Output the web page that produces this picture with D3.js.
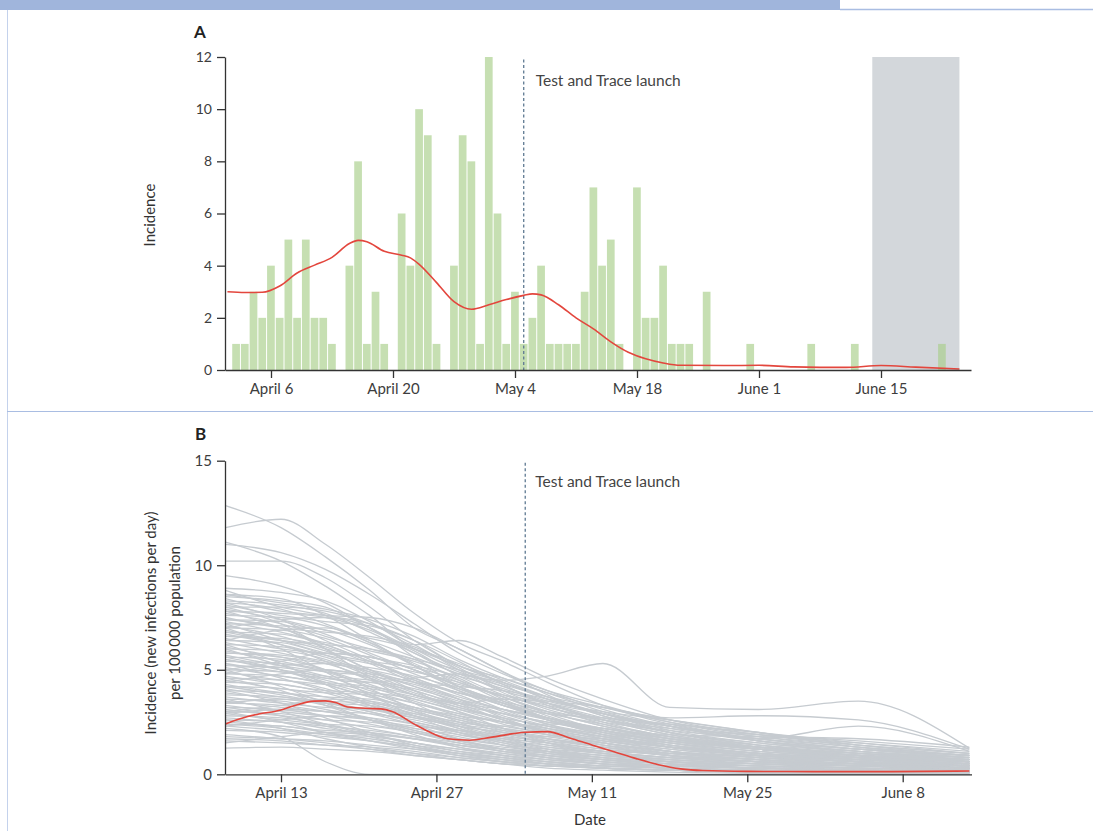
<!DOCTYPE html>
<html>
<head>
<meta charset="utf-8">
<script src="https://cdn.jsdelivr.net/npm/d3@7"></script>
<style>
  body { margin: 0; background: #ffffff; }
  svg { display: block; font-family: Lato, "Open Sans", sans-serif; }
</style>
</head>
<body>
<div id="chart"></div>
<script>
// ---- Panel A: daily cases (bars) + smoothed incidence ----
const aStart = "2020-04-02"; // first bar, one bar per day after that
const aCounts = [1, 1, 3, 2, 4, 2, 5, 2, 5, 2, 2, 1, 0, 4, 8, 1, 3, 1, 0, 6,
                 4, 10, 9, 1, 0, 4, 9, 8, 1, 12, 6, 1, 3, 1, 2, 4, 1, 1, 1, 1,
                 3, 7, 4, 5, 1, 0, 7, 2, 2, 4, 1, 1, 1, 0, 3, 0, 0, 0, 0, 1,
                 0, 0, 0, 0, 0, 0, 1, 0, 0, 0, 0, 1, 0, 0, 0, 0, 0, 0, 0, 0,
                 0, 1];
const aTrendDates = ["2020-04-01", "2020-04-03", "2020-04-05", "2020-04-07", "2020-04-09", "2020-04-11",
                     "2020-04-13", "2020-04-15", "2020-04-16", "2020-04-17", "2020-04-19", "2020-04-21",
                     "2020-04-22", "2020-04-23", "2020-04-25", "2020-04-27", "2020-04-29", "2020-05-01",
                     "2020-05-03", "2020-05-05", "2020-05-06", "2020-05-07", "2020-05-09", "2020-05-11",
                     "2020-05-13", "2020-05-15", "2020-05-17", "2020-05-19", "2020-05-21", "2020-05-23",
                     "2020-05-28", "2020-06-01", "2020-06-05", "2020-06-11", "2020-06-15", "2020-06-19",
                     "2020-06-24"];
const aTrend = [3.0, 2.97, 2.98, 3.22, 3.72, 4.02,
                4.32, 4.85, 4.97, 4.92, 4.55, 4.4,
                4.3, 4.05, 3.35, 2.62, 2.33, 2.5,
                2.7, 2.86, 2.92, 2.88, 2.5, 2.0,
                1.58, 1.08, 0.68, 0.43, 0.27, 0.18,
                0.17, 0.18, 0.12, 0.1, 0.17, 0.11,
                0.04];
const aTicks = ["2020-04-06", "2020-04-20", "2020-05-04", "2020-05-18", "2020-06-01", "2020-06-15"];
const aYTicks = [0, 2, 4, 6, 8, 10, 12];
const aShade = ["2020-06-14", "2020-06-24"];

// ---- Panel B: incidence per area (grey) + Isle of Wight (red) ----
const bDates = ["2020-04-08", "2020-04-13", "2020-04-17", "2020-04-21", "2020-04-25", "2020-04-29",
                "2020-05-03", "2020-05-07", "2020-05-12", "2020-05-18", "2020-05-26", "2020-06-04",
                "2020-06-14"];
const bSeries = [
  [12.85, 11.8, 10.4, 8.8, 7.0, 6.0, 4.9, 4.0, 3.1, 2.3, 1.6, 1.2, 0.9],
  [11.8, 12.2, 11.0, 9.4, 7.7, 6.3, 5.4, 4.4, 3.3, 2.4, 1.7, 1.2, 0.8],
  [11.1, 10.2, 9.0, 7.6, 6.2, 6.4, 5.6, 4.6, 3.6, 2.6, 1.9, 1.4, 1.0],
  [11.0, 10.6, 9.8, 8.6, 7.2, 5.8, 4.8, 4.0, 3.3, 2.5, 1.8, 1.3, 0.9],
  [10.2, 10.2, 9.4, 8.0, 6.4, 5.2, 4.4, 3.7, 2.9, 2.1, 1.5, 1.1, 0.8],
  [9.5, 9.0, 8.2, 7.0, 5.8, 4.8, 4.5, 4.7, 5.3, 3.2, 3.1, 3.5, 1.25],
  [8.9, 8.7, 8.3, 7.3, 6.0, 5.0, 4.3, 3.7, 3.2, 2.7, 2.8, 2.6, 1.2],
  [8.8, 8.0, 7.6, 7.2, 6.4, 5.2, 4.6, 3.9, 3.0, 2.3, 1.7, 2.3, 1.1],
  [8.6, 8.2, 7.9, 7.4, 6.6, 5.5, 4.6, 3.9, 3.2, 2.5, 1.9, 1.5, 1.1],
  [8.5, 8.3, 8.0, 7.0, 6.0, 5.2, 4.4, 3.6, 2.9, 2.2, 1.6, 1.2, 0.9],
  [8.4, 7.8, 7.6, 7.5, 7.0, 6.0, 4.9, 3.8, 2.8, 2.3, 1.8, 1.4, 1.0],
  [8.3, 8.1, 7.7, 6.8, 5.8, 4.9, 4.2, 3.5, 3.0, 2.6, 2.0, 1.3, 0.8],
  [8.2, 7.9, 7.2, 6.4, 5.6, 4.8, 4.0, 3.4, 2.7, 2.0, 1.5, 1.1, 0.7],
  [8.1, 7.6, 7.3, 7.1, 6.4, 5.4, 4.3, 3.3, 2.4, 1.8, 1.3, 1.0, 0.8],
  [8.0, 8.0, 7.8, 7.2, 6.2, 5.0, 3.9, 3.1, 2.5, 2.1, 1.7, 1.3, 0.9],
  [7.9, 7.4, 6.9, 6.5, 6.0, 5.3, 4.5, 3.7, 2.8, 2.0, 1.4, 1.0, 0.6],
  [7.8, 7.7, 7.5, 6.9, 5.9, 4.7, 3.8, 3.2, 2.6, 2.2, 1.9, 1.6, 1.2],
  [7.7, 7.2, 6.6, 6.0, 5.5, 5.0, 4.4, 3.6, 2.9, 2.3, 1.6, 1.1, 0.7],
  [7.6, 7.5, 7.1, 6.3, 5.3, 4.4, 3.7, 3.0, 2.3, 1.7, 1.2, 0.9, 0.6],
  [7.5, 7.0, 6.8, 6.6, 6.1, 5.1, 4.0, 3.2, 2.7, 2.4, 2.0, 1.5, 1.0],
  [7.4, 7.3, 6.7, 5.8, 5.0, 4.3, 3.8, 3.4, 2.9, 2.3, 1.7, 1.2, 0.8],
  [7.3, 6.8, 6.3, 5.9, 5.4, 4.6, 3.6, 2.8, 2.1, 1.6, 1.2, 0.8, 0.5],
  [7.2, 7.1, 6.9, 6.2, 5.2, 4.2, 3.5, 3.0, 2.6, 2.0, 1.4, 0.9, 0.6],
  [7.1, 6.6, 6.0, 5.6, 5.2, 4.7, 4.1, 3.4, 2.6, 1.9, 1.3, 0.9, 0.6],
  [7.0, 6.9, 6.5, 5.7, 4.8, 4.0, 3.3, 2.7, 2.1, 1.6, 1.2, 0.9, 0.7],
  [6.9, 6.4, 6.2, 6.0, 5.5, 4.5, 3.5, 2.7, 2.2, 1.8, 1.4, 1.1, 0.8],
  [6.8, 6.7, 6.2, 5.4, 4.6, 3.9, 3.4, 2.9, 2.4, 1.8, 1.2, 0.8, 0.5],
  [6.7, 6.2, 5.7, 5.3, 4.9, 4.4, 3.7, 3.0, 2.3, 1.7, 1.3, 1.0, 0.7],
  [6.6, 6.5, 6.1, 5.3, 4.4, 3.7, 3.1, 2.6, 2.1, 1.5, 1.0, 0.7, 0.4],
  [6.5, 6.0, 5.8, 5.6, 5.0, 4.1, 3.3, 2.6, 2.0, 1.6, 1.3, 1.0, 0.7],
  [6.4, 6.3, 5.7, 4.9, 4.2, 3.6, 3.1, 2.7, 2.2, 1.7, 1.2, 0.8, 0.5],
  [6.3, 5.8, 5.4, 5.1, 4.7, 4.1, 3.4, 2.7, 2.0, 1.4, 1.0, 0.7, 0.5],
  [6.2, 6.1, 5.6, 4.8, 4.0, 3.4, 2.9, 2.5, 2.1, 1.7, 1.3, 0.9, 0.6],
  [6.1, 5.6, 5.3, 5.0, 4.5, 3.8, 3.0, 2.4, 1.9, 1.5, 1.1, 0.8, 0.5],
  [6.0, 5.9, 5.5, 4.7, 3.9, 3.3, 2.9, 2.5, 2.0, 1.4, 0.9, 0.6, 0.4],
  [5.9, 5.4, 5.0, 4.8, 4.4, 3.9, 3.3, 2.6, 1.9, 1.3, 0.9, 0.7, 0.5],
  [5.8, 5.7, 5.3, 4.6, 3.8, 3.2, 2.7, 2.3, 1.9, 1.5, 1.1, 0.8, 0.6],
  [5.7, 5.2, 4.9, 4.7, 4.3, 3.6, 2.9, 2.3, 1.8, 1.4, 1.0, 0.7, 0.4],
  [5.6, 5.5, 5.0, 4.3, 3.6, 3.1, 2.7, 2.3, 1.8, 1.3, 0.9, 0.6, 0.4],
  [5.5, 5.0, 4.7, 4.5, 4.1, 3.5, 2.8, 2.2, 1.7, 1.3, 1.0, 0.8, 0.6],
  [5.4, 5.3, 4.9, 4.2, 3.5, 2.9, 2.5, 2.1, 1.7, 1.3, 0.9, 0.6, 0.3],
  [5.3, 4.9, 4.6, 4.4, 4.0, 3.3, 2.6, 2.1, 1.6, 1.2, 0.9, 0.7, 0.5],
  [5.2, 5.1, 4.7, 4.0, 3.4, 2.9, 2.5, 2.2, 1.8, 1.4, 1.0, 0.7, 0.5],
  [5.1, 4.7, 4.4, 4.2, 3.8, 3.2, 2.6, 2.0, 1.5, 1.1, 0.8, 0.6, 0.4],
  [5.0, 4.9, 4.5, 3.9, 3.2, 2.7, 2.3, 2.0, 1.6, 1.2, 0.8, 0.5, 0.3],
  [4.9, 4.5, 4.3, 4.1, 3.7, 3.1, 2.5, 2.0, 1.6, 1.3, 1.0, 0.7, 0.5],
  [4.8, 4.7, 4.3, 3.7, 3.1, 2.6, 2.2, 1.9, 1.5, 1.1, 0.7, 0.5, 0.3],
  [4.7, 4.3, 4.0, 3.9, 3.6, 3.0, 2.4, 1.9, 1.5, 1.1, 0.8, 0.6, 0.4],
  [4.6, 4.5, 4.1, 3.5, 2.9, 2.5, 2.2, 1.9, 1.5, 1.1, 0.8, 0.6, 0.4],
  [4.5, 4.1, 3.9, 3.8, 3.4, 2.8, 2.2, 1.7, 1.3, 1.0, 0.7, 0.5, 0.3],
  [4.4, 4.3, 3.9, 3.3, 2.8, 2.4, 2.1, 1.8, 1.4, 1.0, 0.7, 0.4, 0.2],
  [4.3, 3.9, 3.7, 3.6, 3.2, 2.7, 2.1, 1.6, 1.2, 0.9, 0.7, 0.5, 0.4],
  [4.2, 4.1, 3.7, 3.2, 2.7, 2.3, 2.0, 1.7, 1.4, 1.1, 0.8, 0.5, 0.3],
  [4.1, 3.7, 3.5, 3.4, 3.1, 2.6, 2.0, 1.5, 1.1, 0.8, 0.6, 0.4, 0.3],
  [4.0, 3.9, 3.5, 3.0, 2.5, 2.1, 1.8, 1.6, 1.3, 0.9, 0.6, 0.4, 0.2],
  [3.9, 3.6, 3.4, 3.3, 2.9, 2.4, 1.9, 1.5, 1.1, 0.8, 0.6, 0.5, 0.3],
  [3.8, 3.7, 3.3, 2.9, 2.4, 2.0, 1.7, 1.5, 1.2, 0.9, 0.6, 0.4, 0.2],
  [3.7, 3.4, 3.2, 3.1, 2.8, 2.3, 1.8, 1.4, 1.0, 0.7, 0.5, 0.4, 0.3],
  [3.6, 3.5, 3.1, 2.7, 2.2, 1.9, 1.6, 1.4, 1.1, 0.8, 0.5, 0.3, 0.2],
  [3.5, 3.2, 3.0, 2.9, 2.6, 2.1, 1.6, 1.2, 0.9, 0.7, 0.5, 0.4, 0.3],
  [3.4, 3.3, 3.0, 2.6, 2.1, 1.7, 1.4, 1.2, 1.0, 0.7, 0.5, 0.3, 0.2],
  [3.3, 3.0, 2.8, 2.7, 2.4, 1.9, 1.5, 1.1, 0.8, 0.6, 0.4, 0.3, 0.2],
  [3.2, 3.1, 2.8, 2.4, 2.0, 1.6, 1.3, 1.1, 0.9, 0.6, 0.4, 0.3, 0.2],
  [3.1, 2.8, 2.6, 2.5, 2.2, 1.8, 1.4, 1.0, 0.7, 0.5, 0.4, 0.3, 0.2],
  [3.0, 2.9, 2.6, 2.2, 1.8, 1.5, 1.2, 1.0, 0.8, 0.6, 0.4, 0.2, 0.1],
  [2.9, 2.6, 2.4, 2.3, 2.0, 1.6, 1.2, 0.9, 0.7, 0.5, 0.3, 0.2, 0.1],
  [2.8, 2.7, 2.4, 2.0, 1.7, 1.4, 1.1, 0.9, 0.7, 0.5, 0.3, 0.2, 0.1],
  [2.7, 2.5, 2.3, 2.1, 1.8, 1.4, 1.1, 0.8, 0.6, 0.4, 0.3, 0.2, 0.1],
  [2.6, 2.5, 2.2, 1.9, 1.5, 1.2, 1.0, 0.8, 0.6, 0.4, 0.3, 0.2, 0.1],
  [2.5, 2.3, 2.1, 2.0, 1.7, 1.3, 1.0, 0.7, 0.5, 0.4, 0.3, 0.2, 0.1],
  [2.4, 2.3, 2.0, 1.7, 1.4, 1.1, 0.9, 0.7, 0.5, 0.3, 0.2, 0.1, 0.1],
  [2.3, 2.1, 1.9, 1.8, 1.5, 1.2, 0.9, 0.7, 0.5, 0.4, 0.3, 0.2, 0.1],
  [2.1, 2.0, 1.8, 1.6, 1.3, 1.0, 0.8, 0.6, 0.4, 0.3, 0.2, 0.1, 0.1],
  [2.2, 1.8, 0.6, 0.0, 0.0, 0.0, 0.0, 0.0, 0.0, 0.0, 0.0, 0.0, 0.0],
  [1.8, 1.7, 1.6, 1.4, 1.2, 1.0, 0.8, 0.6, 0.4, 0.3, 0.2, 0.1, 0.0],
  [1.6, 1.5, 1.4, 1.3, 1.1, 0.8, 0.6, 0.5, 0.3, 0.2, 0.1, 0.1, 0.0],
  [1.25, 1.3, 1.2, 1.1, 0.9, 0.7, 0.5, 0.4, 0.3, 0.2, 0.1, 0.0, 0.0],
  [6.0, 5.2, 4.6, 4.4, 4.6, 4.8, 4.2, 3.4, 2.5, 1.8, 1.2, 0.9, 0.6],
  [3.0, 3.3, 3.6, 3.5, 3.0, 2.5, 2.3, 2.4, 2.2, 1.6, 1.1, 0.8, 0.6],
  [7.0, 7.4, 7.5, 7.0, 5.6, 4.2, 3.3, 2.9, 2.7, 2.4, 1.6, 1.0, 0.7],
  [4.4, 4.8, 5.0, 4.6, 3.8, 3.4, 3.6, 3.3, 2.6, 1.9, 1.3, 0.9, 0.7],
  [5.5, 5.0, 4.4, 3.8, 3.0, 2.2, 1.6, 1.3, 1.1, 1.0, 0.9, 0.8, 0.7],
  [2.3, 2.6, 2.8, 2.6, 2.3, 2.1, 1.9, 1.8, 1.7, 1.3, 0.9, 0.6, 0.4],
  [1.5, 1.8, 2.0, 1.9, 1.7, 1.4, 1.2, 1.1, 0.9, 0.7, 0.5, 0.4, 0.3],
  [8.2, 7.4, 6.4, 5.5, 4.6, 3.9, 3.6, 3.5, 3.2, 2.6, 2.0, 1.4, 0.9],
  [6.8, 6.2, 5.4, 4.5, 3.8, 3.4, 3.1, 2.7, 2.2, 1.9, 1.8, 1.7, 1.3],
  [5.0, 5.4, 5.8, 5.6, 5.0, 4.2, 3.4, 2.6, 1.9, 1.3, 0.9, 0.6, 0.4],
  [7.4, 7.0, 6.0, 5.0, 4.4, 4.2, 4.0, 3.6, 2.9, 2.0, 1.3, 0.8, 0.5],
  [3.2, 2.8, 2.3, 1.8, 1.3, 0.9, 0.6, 0.4, 0.3, 0.2, 0.1, 0.05, 0.05],
  [4.0, 3.4, 2.7, 2.0, 1.4, 1.0, 0.7, 0.5, 0.3, 0.2, 0.1, 0.1, 0.05],
  [5.0, 4.2, 3.4, 2.6, 1.9, 1.3, 0.9, 0.6, 0.4, 0.3, 0.2, 0.1, 0.1],
  [2.6, 2.2, 1.7, 1.3, 1.0, 0.7, 0.5, 0.3, 0.2, 0.1, 0.05, 0.0, 0.0],
  [6.2, 5.3, 4.3, 3.3, 2.4, 1.7, 1.2, 0.8, 0.5, 0.3, 0.2, 0.1, 0.1],
  [3.6, 3.0, 2.4, 1.9, 1.5, 1.1, 0.8, 0.5, 0.3, 0.2, 0.1, 0.1, 0.0],
  [7.0, 6.0, 4.9, 3.8, 2.8, 2.0, 1.4, 1.0, 0.7, 0.4, 0.3, 0.2, 0.1],
  [4.6, 4.0, 3.3, 2.6, 2.0, 1.5, 1.1, 0.8, 0.5, 0.3, 0.2, 0.2, 0.1],
  [1.9, 1.7, 1.5, 1.2, 0.9, 0.7, 0.5, 0.4, 0.3, 0.2, 0.1, 0.0, 0.0],
  [8.0, 7.2, 6.0, 4.6, 3.4, 2.5, 1.8, 1.2, 0.8, 0.5, 0.3, 0.2, 0.2],
  [5.8, 5.6, 5.0, 4.1, 3.1, 2.3, 1.6, 1.1, 0.7, 0.5, 0.3, 0.2, 0.1],
  [3.0, 2.5, 2.0, 1.6, 1.2, 0.9, 0.7, 0.5, 0.4, 0.3, 0.2, 0.1, 0.1],
  [6.6, 6.4, 5.9, 5.0, 4.0, 3.0, 2.2, 1.5, 1.0, 0.6, 0.4, 0.3, 0.2],
  [4.2, 3.8, 3.4, 3.0, 2.5, 2.0, 1.5, 1.1, 0.8, 0.6, 0.5, 0.4, 0.3],
  [7.8, 7.0, 6.2, 5.4, 4.5, 3.6, 2.7, 2.0, 1.4, 0.9, 0.6, 0.4, 0.3],
  [5.3, 4.6, 4.0, 3.4, 2.8, 2.2, 1.7, 1.3, 1.0, 0.8, 0.6, 0.5, 0.4],
  [2.9, 3.1, 3.0, 2.6, 2.1, 1.6, 1.2, 0.9, 0.6, 0.4, 0.3, 0.2, 0.1],
  [6.4, 6.9, 7.0, 6.3, 5.2, 4.0, 3.1, 2.4, 1.7, 1.1, 0.7, 0.5, 0.3],
  [4.8, 5.2, 5.3, 4.9, 4.2, 3.4, 2.6, 2.0, 1.5, 1.0, 0.7, 0.5, 0.4],
  [7.2, 6.4, 5.8, 5.4, 5.1, 4.5, 3.7, 2.9, 2.1, 1.5, 1.0, 0.7, 0.5],
  [8.6, 8.4, 7.6, 6.4, 5.2, 4.2, 3.4, 2.7, 2.1, 1.6, 1.2, 0.9, 0.6],
  [3.4, 3.6, 3.4, 3.1, 2.7, 2.3, 2.0, 1.7, 1.3, 0.9, 0.6, 0.4, 0.3],
  [5.6, 5.0, 4.3, 3.7, 3.2, 2.8, 2.5, 2.2, 1.8, 1.3, 0.9, 0.6, 0.4],
  [1.7, 1.6, 1.4, 1.2, 1.0, 0.8, 0.6, 0.4, 0.3, 0.2, 0.1, 0.05, 0.05],
  [2.4, 2.2, 1.9, 1.6, 1.3, 1.0, 0.7, 0.5, 0.3, 0.2, 0.1, 0.1, 0.0]
];
const bRedDates = ["2020-04-08", "2020-04-10", "2020-04-11", "2020-04-13", "2020-04-14", "2020-04-16",
                   "2020-04-17", "2020-04-18", "2020-04-19", "2020-04-21", "2020-04-22", "2020-04-23",
                   "2020-04-25", "2020-04-26", "2020-04-28", "2020-04-30", "2020-05-02", "2020-05-04",
                   "2020-05-05", "2020-05-07", "2020-05-09", "2020-05-11", "2020-05-13", "2020-05-15",
                   "2020-05-17", "2020-05-19", "2020-05-21", "2020-05-25", "2020-05-31", "2020-06-07",
                   "2020-06-14"];
const bRed = [2.41, 2.76, 2.88, 3.08, 3.25, 3.5,
              3.51, 3.42, 3.22, 3.15, 3.13, 3.0,
              2.4, 2.12, 1.7, 1.63, 1.78, 1.95,
              2.01, 2.04, 1.74, 1.4, 1.08, 0.75,
              0.46, 0.26, 0.18, 0.14, 0.13, 0.13,
              0.16];
const bTicks = ["2020-04-13", "2020-04-27", "2020-05-11", "2020-05-25", "2020-06-08"];
const bYTicks = [0, 5, 10, 15];

const launchDate = "2020-05-05";
const launchLabel = "Test and Trace launch";

// ---- drawing ----
const width = 1093, height = 831;
const parse = d3.timeParse("%Y-%m-%d");
const fmt = d3.timeFormat("%B %-d");

const svg = d3.select("#chart").append("svg")
    .attr("width", width)
    .attr("height", height);

// page furniture (journal frame)
svg.append("rect").attr("x", 0).attr("y", 0).attr("width", 840).attr("height", 10).attr("fill", "#a0b5dc");
svg.append("line").attr("x1", 840).attr("x2", width).attr("y1", 9.5).attr("y2", 9.5)
    .attr("stroke", "#a9bde2").attr("stroke-width", 1.5);
svg.append("line").attr("x1", 7.5).attr("x2", 7.5).attr("y1", 10).attr("y2", height)
    .attr("stroke", "#c4d2ec").attr("stroke-width", 1);
svg.append("line").attr("x1", 7).attr("x2", width).attr("y1", 411.5).attr("y2", 411.5)
    .attr("stroke", "#a9bde2").attr("stroke-width", 1.2);

function styleAxis(g, size) {
    g.attr("font-family", null).attr("font-size", null);
    g.select(".domain").attr("stroke", "#333").attr("stroke-width", 1.3);
    g.selectAll(".tick line").attr("stroke", "#333").attr("stroke-width", 1.3);
    g.selectAll(".tick text").attr("font-size", size).attr("fill", "#3d3d3d");
}

// ===== Panel A =====
const xA = d3.scaleTime()
    .domain([parse(aTicks[0]), parse(aTicks[5])])
    .range([271, 881]);
xA.domain([xA.invert(225), xA.invert(971)]).range([225, 971]);
const yA = d3.scaleLinear().domain([0, 12]).range([370, 57]);

const gA = svg.append("g");

// shaded period
gA.append("rect")
    .attr("x", xA(parse(aShade[0])))
    .attr("y", yA(12))
    .attr("width", xA(parse(aShade[1])) - xA(parse(aShade[0])))
    .attr("height", yA(0) - yA(12))
    .attr("fill", "#d3d7db");

const aStartDate = parse(aStart);
const aBars = aCounts.map((v, i) => ({ date: d3.timeDay.offset(aStartDate, i), value: v }));
const dayW = xA(d3.timeDay.offset(aStartDate, 1)) - xA(aStartDate);

gA.selectAll(".bar")
    .data(aBars.filter(d => d.value > 0))
    .join("rect")
    .attr("class", "bar")
    .attr("x", d => xA(d.date) - dayW * 0.45)
    .attr("width", dayW - 1)
    .attr("y", d => yA(d.value))
    .attr("height", d => yA(0) - yA(d.value))
    .attr("fill", "#a9cf8a")
    .attr("fill-opacity", 0.66);

// launch marker
gA.append("line")
    .attr("x1", xA(parse(launchDate))).attr("x2", xA(parse(launchDate)))
    .attr("y1", yA(11.9)).attr("y2", yA(0))
    .attr("stroke", "#5f7a92").attr("stroke-width", 1.3).attr("stroke-dasharray", "3,2.5");
gA.append("text")
    .attr("x", xA(parse(launchDate)) + 12).attr("y", 86)
    .attr("font-size", 15.5).attr("fill", "#444")
    .text(launchLabel);

// smoothed incidence
const lineA = d3.line()
    .x((d, i) => xA(parse(aTrendDates[i])))
    .y(d => yA(d))
    .curve(d3.curveMonotoneX);
gA.append("path")
    .datum(aTrend)
    .attr("d", lineA)
    .attr("fill", "none")
    .attr("stroke", "#e3463d")
    .attr("stroke-width", 1.6);

gA.append("g")
    .attr("transform", `translate(0,${yA(0)})`)
    .call(d3.axisBottom(xA).tickValues(aTicks.map(parse)).tickFormat(fmt)
        .tickSize(8).tickSizeOuter(0).tickPadding(5))
    .call(g => styleAxis(g, 15));
gA.append("g")
    .attr("transform", `translate(${xA.range()[0]},0)`)
    .call(d3.axisLeft(yA).tickValues(aYTicks).tickSize(8).tickSizeOuter(0).tickPadding(5))
    .call(g => styleAxis(g, 14));

gA.append("text")
    .attr("transform", "translate(155,215) rotate(-90)")
    .attr("text-anchor", "middle")
    .attr("font-size", 15).attr("fill", "#333")
    .text("Incidence");
gA.append("text")
    .attr("x", 194).attr("y", 38)
    .attr("font-size", 17).attr("font-weight", "bold").attr("fill", "#222")
    .text("A");

// ===== Panel B =====
const xB = d3.scaleTime()
    .domain([parse(bTicks[0]), parse(bTicks[4])])
    .range([281, 902.7]);
xB.domain([xB.invert(225), xB.invert(971.5)]).range([225, 971.5]);
const yB = d3.scaleLinear().domain([0, 15]).range([774.3, 460.7]);

const gB = svg.append("g");

const lineB = d3.line()
    .x((d, i) => xB(parse(bDates[i])))
    .y(d => yB(d))
    .curve(d3.curveMonotoneX);

gB.selectAll(".area-line")
    .data(bSeries)
    .join("path")
    .attr("class", "area-line")
    .attr("d", lineB)
    .attr("fill", "none")
    .attr("stroke", "#c6cbd0")
    .attr("stroke-width", 1.3);

gB.append("line")
    .attr("x1", xB(parse(launchDate))).attr("x2", xB(parse(launchDate)))
    .attr("y1", yB(14.9)).attr("y2", yB(0))
    .attr("stroke", "#5f7a92").attr("stroke-width", 1.3).attr("stroke-dasharray", "3,2.5");
gB.append("text")
    .attr("x", xB(parse(launchDate)) + 10).attr("y", 487)
    .attr("font-size", 15.5).attr("fill", "#444")
    .text(launchLabel);

const lineRed = d3.line()
    .x((d, i) => xB(parse(bRedDates[i])))
    .y(d => yB(d))
    .curve(d3.curveMonotoneX);
gB.append("path")
    .datum(bRed)
    .attr("d", lineRed)
    .attr("fill", "none")
    .attr("stroke", "#e3463d")
    .attr("stroke-width", 1.6);

gB.append("g")
    .attr("transform", `translate(0,${yB(0)})`)
    .call(d3.axisBottom(xB).tickValues(bTicks.map(parse)).tickFormat(fmt)
        .tickSize(8).tickSizeOuter(0).tickPadding(5))
    .call(g => styleAxis(g, 15));
gB.append("g")
    .attr("transform", `translate(${xB.range()[0]},0)`)
    .call(d3.axisLeft(yB).tickValues(bYTicks).tickSize(8).tickSizeOuter(0).tickPadding(5))
    .call(g => styleAxis(g, 15));

gB.append("text")
    .attr("transform", "translate(156,623) rotate(-90)")
    .attr("text-anchor", "middle")
    .attr("font-size", 15).attr("fill", "#333")
    .text("Incidence (new infections per day)");
gB.append("text")
    .attr("transform", "translate(180,623) rotate(-90)")
    .attr("text-anchor", "middle")
    .attr("font-size", 15).attr("fill", "#333")
    .text("per 100\u2009000 population");
gB.append("text")
    .attr("x", 590).attr("y", 825)
    .attr("text-anchor", "middle")
    .attr("font-size", 15).attr("fill", "#333")
    .text("Date");
gB.append("text")
    .attr("x", 195).attr("y", 440)
    .attr("font-size", 17).attr("font-weight", "bold").attr("fill", "#222")
    .text("B");
</script>
</body>
</html>
